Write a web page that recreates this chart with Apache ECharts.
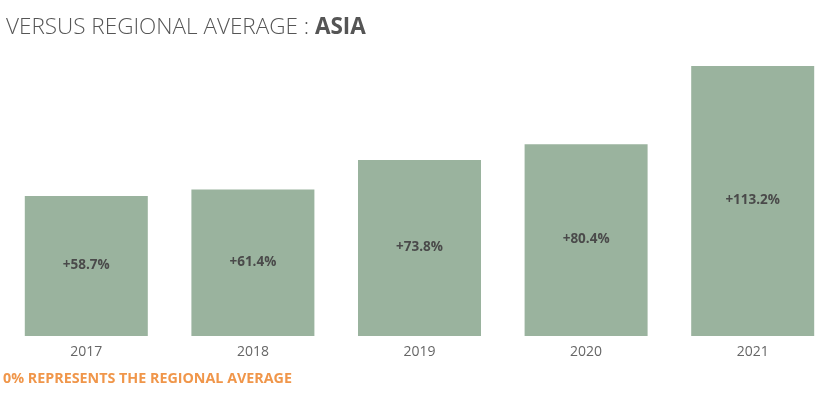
<!DOCTYPE html>
<html><head><meta charset="utf-8">
<script src="https://cdn.jsdelivr.net/npm/echarts@6/dist/echarts.min.js"></script>
<style>html,body{margin:0;padding:0;background:#fff}#c{width:838px;height:393px}</style>
</head><body><div id="c"></div>
<script>
const categories = ['2017','2018','2019','2020','2021'];
const values = [58.7, 61.4, 73.8, 80.4, 113.2];
const titleMain = 'VERSUS REGIONAL AVERAGE : ';
const titleRegion = 'ASIA';
const footnote = '0% REPRESENTS THE REGIONAL AVERAGE';

const chart = echarts.init(document.getElementById('c'));
chart.setOption({
  animation: false,
  title: [{
    text: '{a|' + titleMain + '}{b|' + titleRegion + '}',
    left: 6, top: 16, padding: 0,
    textStyle: { rich: {
      a: { fontFamily: 'Open Sans', fontSize: 22.5, fontWeight: 300, color: '#555' },
      b: { fontFamily: 'Open Sans', fontSize: 22.5, fontWeight: 'bold', color: '#555' }
    }}
  }, {
    text: footnote, left: 3, top: 372, padding: 0,
    textStyle: { fontFamily: 'Open Sans', fontSize: 14.3, fontWeight: 'bold', color: '#f0964a' }
  }],
  grid: { left: 3, right: 2, top: 66, bottom: 57 },
  xAxis: {
    type: 'category', data: categories,
    axisLine: { show: false }, axisTick: { show: false },
    axisLabel: { fontFamily: 'Open Sans', fontSize: 14, color: '#666', margin: 9 }
  },
  yAxis: { type: 'value', min: 0, max: 113.2, show: false, splitLine: { show: false } },
  series: [{
    type: 'bar', data: values, barWidth: 123,
    itemStyle: { color: '#9ab39e' },
    label: { show: true, position: 'inside', offset: [0, -1], fontFamily: 'Open Sans', fontSize: 13.5, fontWeight: 'bold', color: '#4a4a4a',
      formatter: p => '+' + p.value.toFixed(1) + '%' }
  }]
});
</script></body></html>
